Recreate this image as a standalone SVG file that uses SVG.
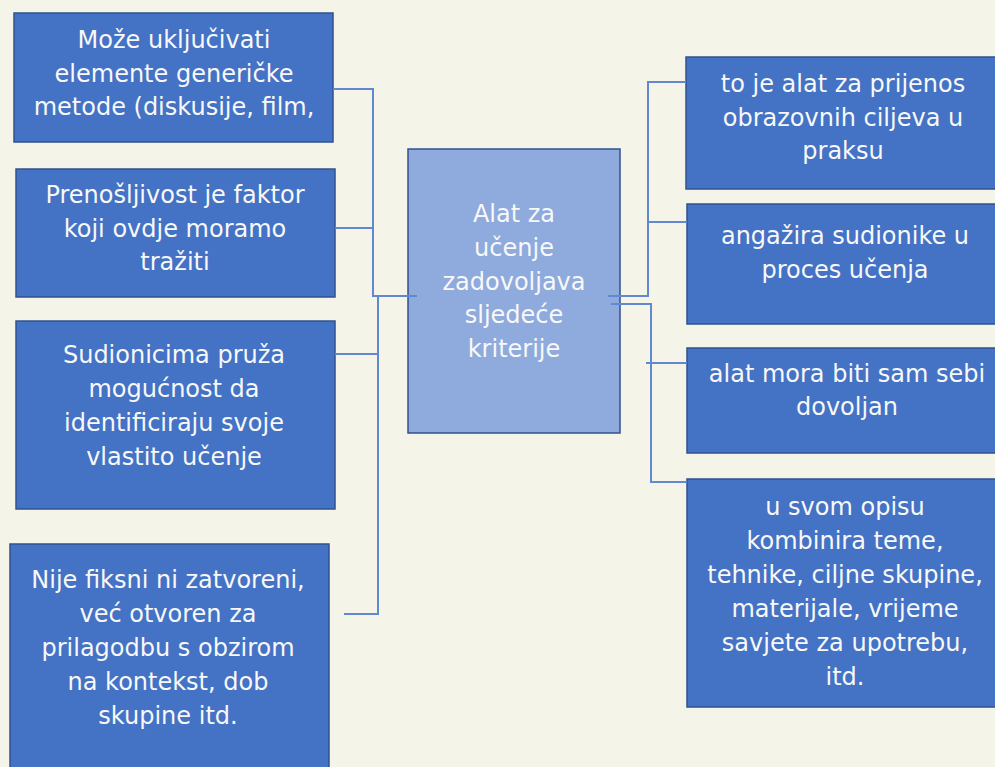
<svg xmlns="http://www.w3.org/2000/svg" width="995" height="767" viewBox="0 0 995 767">
<style>
.bg{fill:#F4F4E8}
.box rect{fill:#4472C4;stroke:#2F528F;stroke-width:1.5}
.center rect{fill:#8FAADC;stroke:#2F528F;stroke-width:1.5}
text{font-family:"DejaVu Sans","Liberation Sans",sans-serif;font-size:24px;fill:#F8F8F8;text-anchor:middle}
.conn path{fill:none;stroke:#6189D2;stroke-width:2}
</style>
<rect class="bg" x="0" y="0" width="995" height="767"/>
<g id="left1" class="box"><rect x="14" y="13" width="319" height="129"/>
<text x="174" y="48">Može uključivati</text><text x="174" y="82">elemente generičke</text><text x="174" y="115">metode (diskusije, film,</text></g>
<g id="left2" class="box"><rect x="16" y="169" width="319" height="128"/>
<text x="175" y="203">Prenošljivost je faktor</text><text x="175" y="237">koji ovdje moramo</text><text x="175" y="270">tražiti</text></g>
<g id="left3" class="box"><rect x="16" y="321" width="319" height="188"/>
<text x="174" y="363">Sudionicima pruža</text><text x="174" y="397">mogućnost da</text><text x="174" y="431">identificiraju svoje</text><text x="174" y="465">vlastito učenje</text></g>
<g id="left4" class="box"><rect x="10" y="544" width="319" height="230"/>
<text x="168" y="588">Nije fiksni ni zatvoreni,</text><text x="168" y="622">već otvoren za</text><text x="168" y="656">prilagodbu s obzirom</text><text x="168" y="690">na kontekst, dob</text><text x="168" y="724">skupine itd.</text></g>
<g id="center" class="center"><rect x="408" y="149" width="212" height="284"/>
<text x="514" y="222">Alat za</text><text x="514" y="256">učenje</text><text x="514" y="290">zadovoljava</text><text x="514" y="323">sljedeće</text><text x="514" y="357">kriterije</text></g>
<g id="right1" class="box"><rect x="686" y="57" width="320" height="132"/>
<text x="843" y="92">to je alat za prijenos</text><text x="843" y="126">obrazovnih ciljeva u</text><text x="843" y="159">praksu</text></g>
<g id="right2" class="box"><rect x="687" y="204" width="320" height="120"/>
<text x="845" y="244">angažira sudionike u</text><text x="845" y="278">proces učenja</text></g>
<g id="right3" class="box"><rect x="687" y="348" width="320" height="105"/>
<text x="847" y="382">alat mora biti sam sebi</text><text x="847" y="415">dovoljan</text></g>
<g id="right4" class="box"><rect x="687" y="479" width="320" height="228"/>
<text x="845" y="515">u svom opisu</text><text x="845" y="549">kombinira teme,</text><text x="845" y="583">tehnike, ciljne skupine,</text><text x="845" y="617">materijale, vrijeme</text><text x="845" y="651">savjete za upotrebu,</text><text x="845" y="685">itd.</text></g>
<g class="conn" id="connectors">
<path d="M333,89 H373 V296 H417"/>
<path d="M335,228 H374"/>
<path d="M378,296 V614 H344"/>
<path d="M335,354 H379"/>
<path d="M608,296 H648 V82 H686"/>
<path d="M648,222 H687"/>
<path d="M611,304 H651 V482 H687"/>
<path d="M646,363 H687"/>
</g>
</svg>
